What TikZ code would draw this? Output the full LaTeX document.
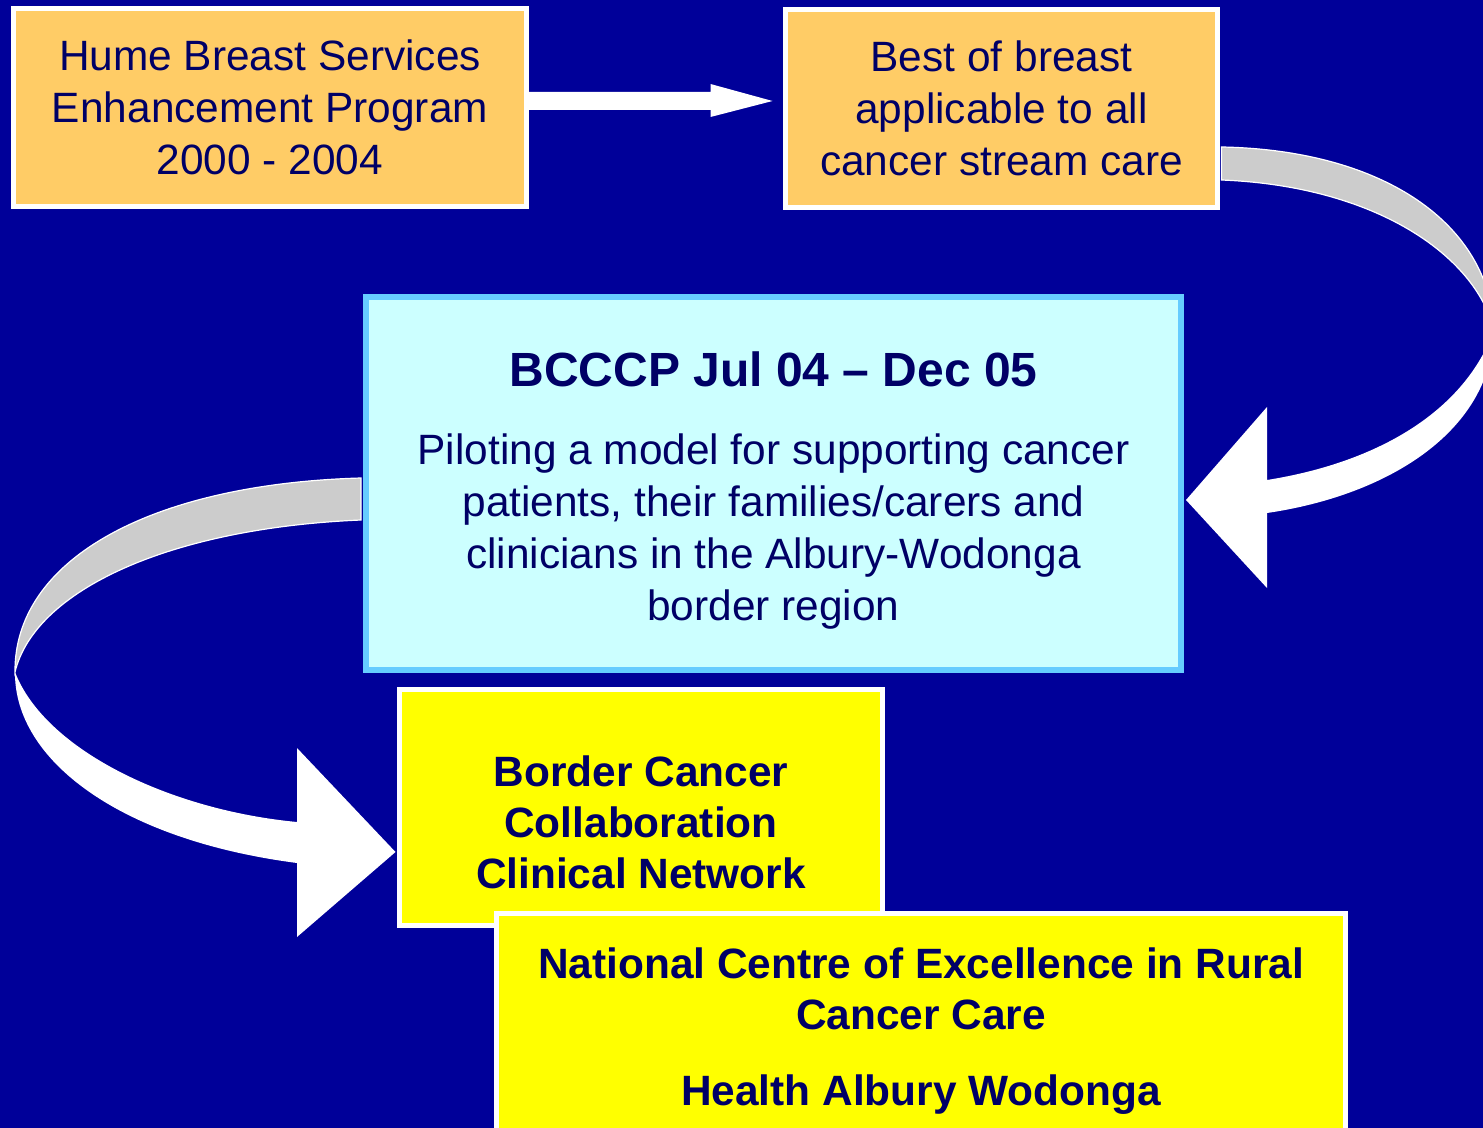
\documentclass[tikz,border=0pt]{standalone}
\usepackage{fontspec}
\setmainfont{Liberation Sans}
\usetikzlibrary{calc}

\definecolor{slidebg}{HTML}{000099}
\definecolor{inknavy}{HTML}{000066}
\definecolor{paleorange}{HTML}{FFCC66}
\definecolor{palecyan}{HTML}{CCFFFF}
\definecolor{skyline}{HTML}{66CCFF}
\definecolor{bandgrey}{HTML}{CCCCCC}
\definecolor{boxyellow}{HTML}{FFFF00}

\tikzset{
  box/.style={draw=white, line width=2.5pt, inner sep=0pt, align=center,
    text=inknavy, font=\fontsize{21.2}{26}\selectfont},
  orangebox/.style={box, fill=paleorange},
  pilotbox/.style={box, fill=palecyan, draw=skyline, line width=3pt},
  yellowbox/.style={box, fill=boxyellow, font=\fontsize{21.2}{25.5}\selectfont\bfseries},
  backband/.style={fill=bandgrey, draw=white, line width=0.6pt},
  frontband/.style={fill=white}
}

\begin{document}
\begin{tikzpicture}[x=0.5pt,y=-0.5pt]
        \clip (0,0) rectangle (1483,1128);
        \fill[slidebg] (0,0) rectangle (1483,1128);
        % boxes
        \node[orangebox, minimum width=256.5pt, minimum height=99pt] (A) at (270,107.5)
          {Hume Breast Services\\Enhancement Program\\2000 - 2004};
        \node[orangebox, minimum width=216pt, minimum height=99pt] (B) at (1001.5,108.5)
          {Best of breast\\applicable to all\\cancer stream care};
        \node[pilotbox, minimum width=407.5pt, minimum height=186.5pt, text height=141.5pt] (C) at (773.5,483.5)
          {{\fontsize{24}{28}\selectfont\bfseries BCCCP Jul 04 -- Dec 05}\\[13pt]
           Piloting a model for supporting cancer\\patients, their families/carers and\\
           clinicians in the Albury-Wodonga\\border region};
        \node[yellowbox, minimum width=241.5pt, minimum height=118pt, text height=81.5pt] (D) at (641,807.5)
          {Border Cancer\\Collaboration\\Clinical Network};
        \node[yellowbox, minimum width=424.5pt, minimum height=113.75pt, text height=82.5pt] (E) at (921,1027.25)
          {National Centre of Excellence in Rural\\Cancer Care\\[12.5pt]Health Albury Wodonga};
        % straight arrow A to B
        \fill[frontband] ($(A.east)+(0,-15.5)$) -- ++(181.5,0) -- ++(0,-8) -- ++(62,17)
          -- ++(-62,16) -- ++(0,-7) -- ++(-181.5,0) -- cycle;
        % curved arrow B to C
        \coordinate (T1) at (1494,330);
        \filldraw[backband] ($(B.east)+(1.5,38.5)$) .. controls (1385,150) and (1490,225) .. (T1)
          .. controls (1475,255) and (1375,186) .. ($(B.east)+(1.5,71.5)$) -- cycle;
        \fill[frontband] (T1) .. controls (1492,430) and (1390,495) .. (1267,513) -- (1267,588)
          -- ($(C.east)+(2,16.5)$) -- (1267,407) -- (1267,480)
          .. controls (1380,462) and (1465,410) .. (T1) -- cycle;
        % curved arrow C to D
        \coordinate (T2) at (15,672);
        \filldraw[backband] ($(C.west)+(-2,-5.5)$) .. controls (150,484) and (14,560) .. (T2)
          .. controls (35,590) and (170,528) .. ($(C.west)+(-2,36.5)$) -- cycle;
        \fill[frontband] (T2) .. controls (14,760) and (120,840) .. (297,863) -- (297,937)
          -- ($(D.west)+(-1.5,44.5)$) -- (297,748) -- (297,822)
          .. controls (170,810) and (45,750) .. (T2) -- cycle;
    \end{tikzpicture}
\end{document}
